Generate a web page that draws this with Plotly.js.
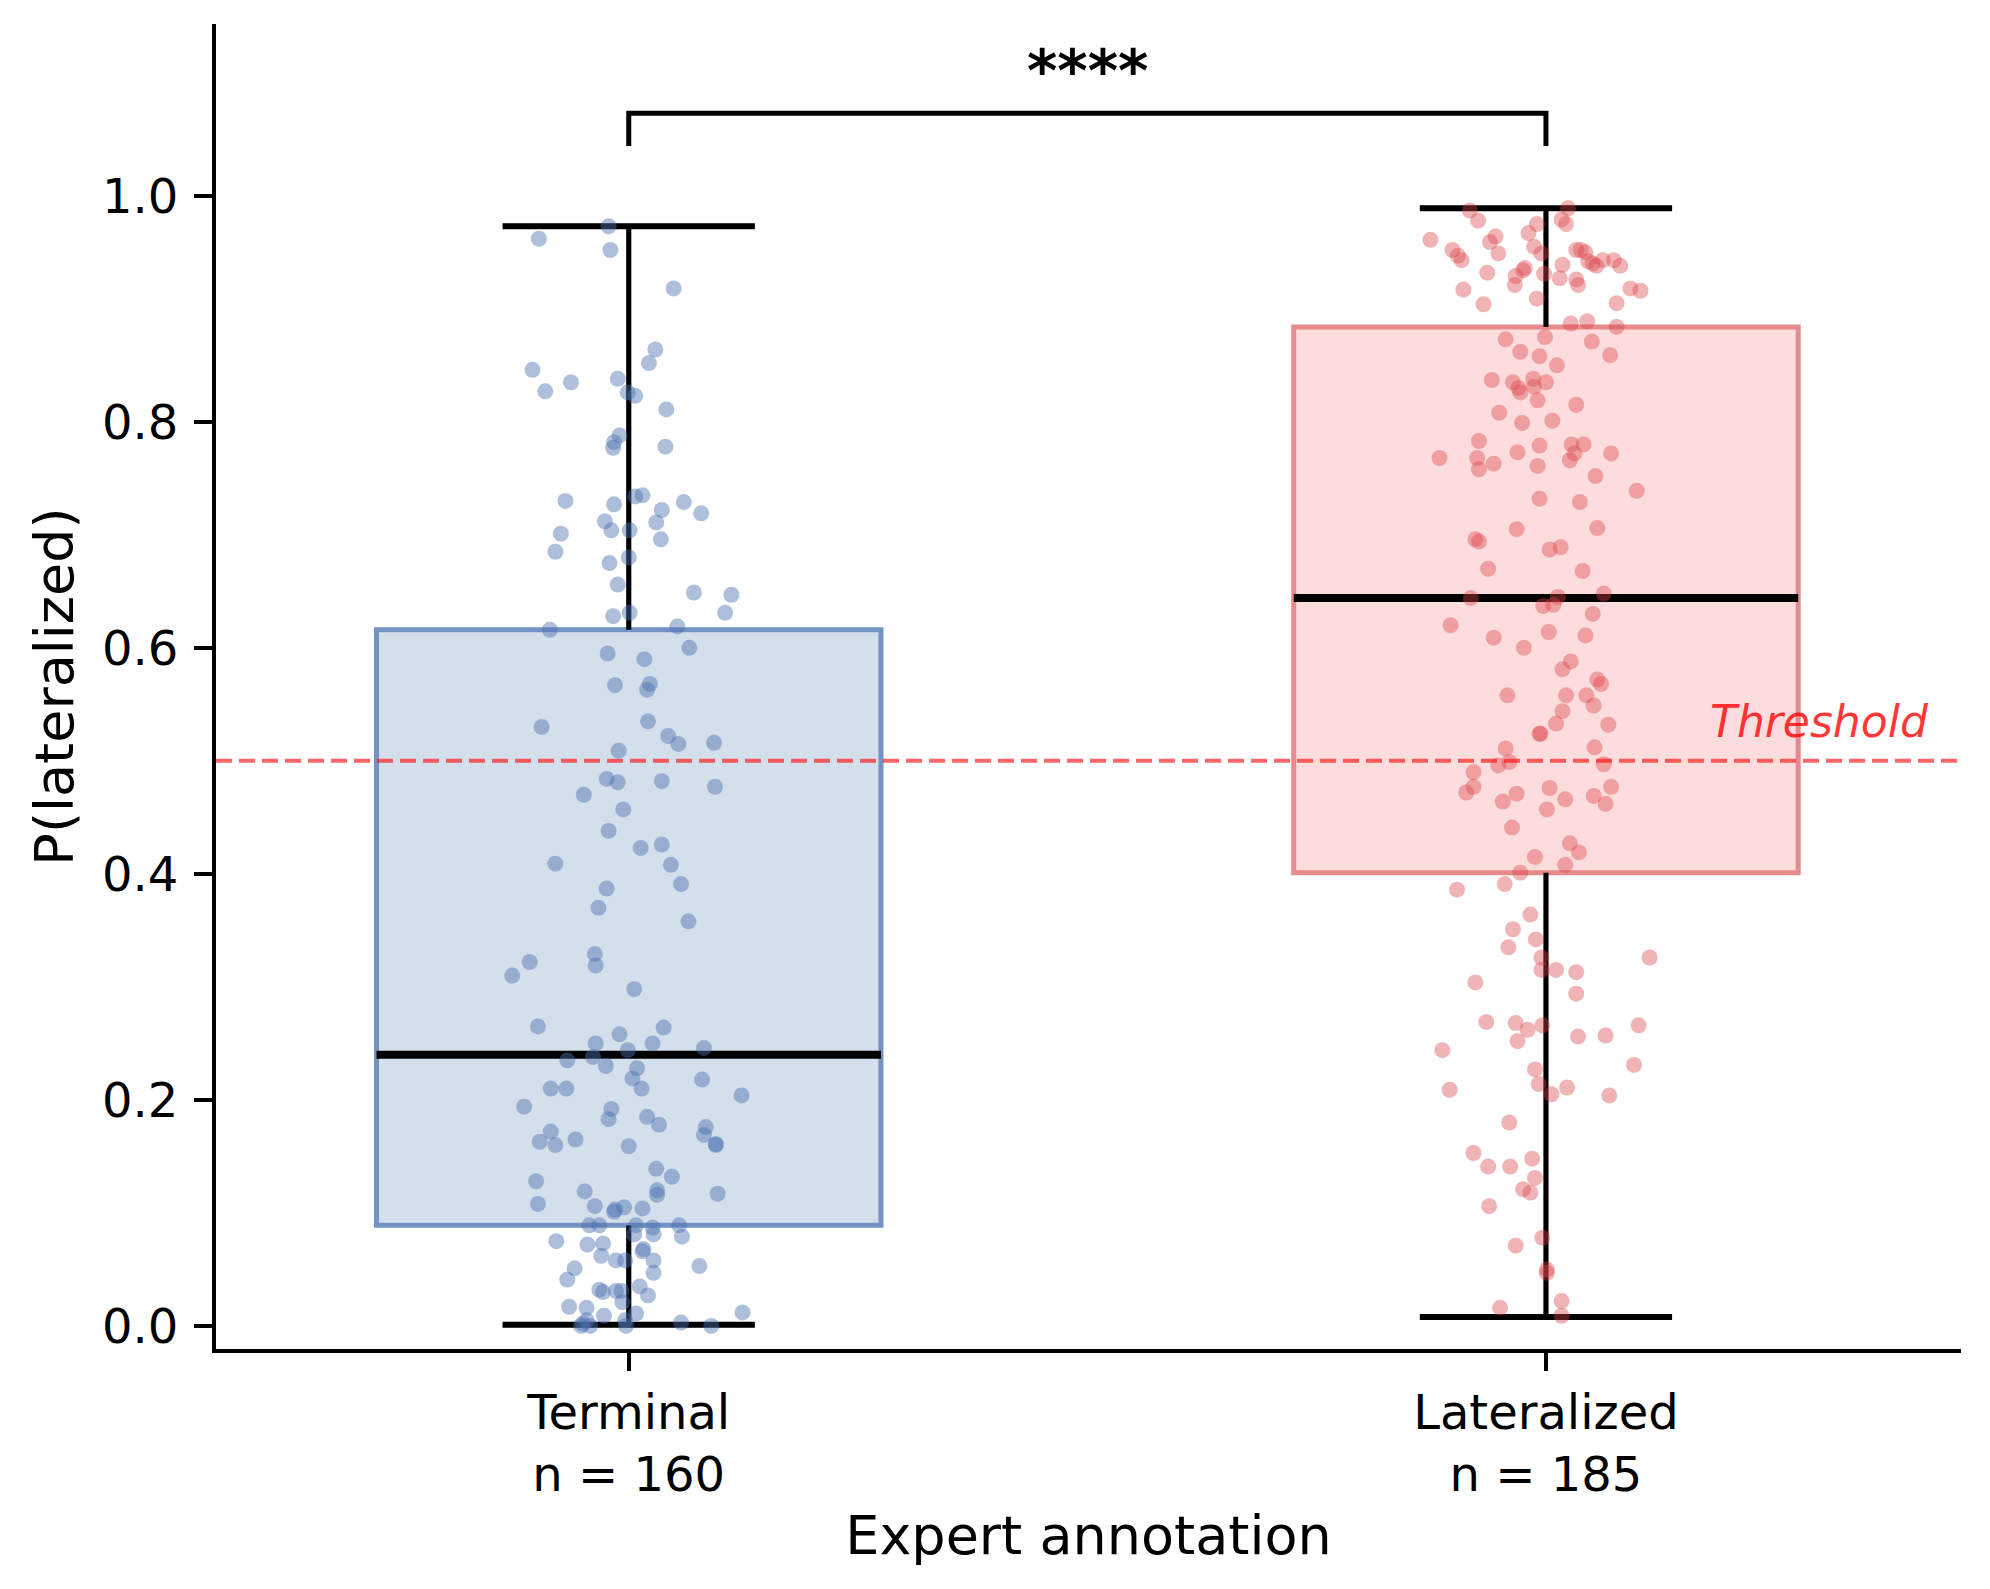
<!DOCTYPE html>
<html><head><meta charset="utf-8">
<script src="https://cdn.plot.ly/plotly-3.0.1.min.js"></script>
<style>html,body{margin:0;padding:0;background:#fff}#chart{width:1990px;height:1589px}</style>
</head><body><div id="chart"></div>
<script>
// ---------- data ----------
const categories = ['Terminal', 'Lateralized'];
const counts = [160, 185];
const q1 = [0.089, 0.401];
const medians = [0.240, 0.644];
const q3 = [0.616, 0.884];
const lowerWhisker = [0.001, 0.008];
const upperWhisker = [0.973, 0.989];
const threshold = 0.5;
const thresholdLabel = 'Threshold';
const significanceText = '****';
const bracketLevel = 1.073;
const bracketEnd = 1.044;

// jitter (category units) and probability of each point, Terminal group
const terminalJitter = [
 -0.022,-0.098,-0.020,0.049,0.029,0.022,-0.105,-0.063,-0.012,-0.091,-0.001,0.007,0.041,-0.010,-0.016,-0.017,0.040,-0.069,0.015,0.007,-0.016,0.060,0.036,0.079,-0.026,0.030,-0.019,0.001,-0.074,0.035,-0.080,0.000,-0.021,
 -0.012,0.071,0.112,-0.017,0.001,0.105,-0.086,0.053,0.066,-0.023,0.017,-0.015,0.023,0.020,-0.095,0.021,0.043,0.054,0.093,-0.011,-0.024,-0.012,0.036,0.094,-0.049,-0.006,-0.022,0.013,0.036,-0.080,0.046,0.057,-0.024,-0.033,0.065,-0.037,
 -0.108,-0.036,-0.127,0.006,-0.099,-0.010,0.038,-0.036,0.026,0.082,
 -0.001,-0.039,-0.067,-0.025,0.009,0.004,0.080,-0.085,-0.068,0.014,
 0.123,-0.114,-0.019,-0.022,0.020,0.033,-0.085,-0.097,-0.080,-0.058,
 0.000,0.084,0.082,0.095,0.095,0.030,0.047,-0.101,-0.048,0.031,
 0.031,0.097,-0.099,-0.037,-0.016,-0.015,-0.005,0.015,-0.043,-0.032,
 0.008,0.026,0.055,-0.079,-0.045,-0.028,0.006,0.027,0.058,-0.030,
 0.016,0.015,-0.014,-0.004,0.027,-0.059,-0.067,0.027,0.077,-0.032,
 -0.028,-0.014,-0.008,0.012,0.021,-0.065,-0.046,-0.027,-0.007,0.008,
 0.124,-0.050,-0.046,-0.052,-0.004,0.057,0.090,-0.042,-0.003
];
const terminalP = [
 0.973,0.962,0.952,0.918,0.864,0.852,0.846,0.835,0.838,0.827,0.826,0.823,0.811,0.788,0.782,0.777,0.778,0.730,0.735,0.734,0.727,0.729,0.722,0.719,0.712,0.711,0.704,0.704,0.701,0.696,0.685,0.680,0.675,
 0.656,0.649,0.647,0.628,0.631,0.631,0.616,0.619,0.600,0.595,0.590,0.567,0.568,0.563,0.530,0.535,0.522,0.515,0.516,0.509,0.484,0.481,0.482,0.477,0.470,0.457,0.438,0.423,0.426,0.409,0.408,0.391,0.387,0.370,0.358,0.329,
 0.322,0.319,0.310,0.298,0.265,0.258,0.264,0.250,0.250,0.246,
 0.244,0.238,0.235,0.230,0.228,0.219,0.218,0.210,0.210,0.210,
 0.204,0.194,0.192,0.183,0.185,0.178,0.172,0.163,0.160,0.165,
 0.159,0.176,0.169,0.161,0.160,0.139,0.132,0.128,0.119,0.120,
 0.116,0.117,0.108,0.106,0.101,0.103,0.105,0.104,0.089,0.089,
 0.089,0.087,0.089,0.075,0.072,0.073,0.081,0.081,0.079,0.062,
 0.068,0.066,0.058,0.058,0.058,0.051,0.041,0.047,0.053,0.032,
 0.030,0.031,0.031,0.035,0.027,0.017,0.016,0.009,0.021,0.011,
 0.012,0.002,0.005,0.000,0.005,0.003,0.000,0.000,0.000
];

// jitter and probability of each point, Lateralized group
const lateralJitter = [
 -0.083,-0.074,0.024,0.017,0.022,-0.010,-0.019,-0.126,-0.055,-0.061,
 -0.102,-0.096,-0.092,-0.052,-0.013,-0.005,0.033,0.038,0.043,0.046,
 0.051,0.055,0.062,0.074,0.081,0.018,-0.023,-0.025,-0.033,-0.064,
 -0.002,0.015,0.033,0.035,-0.034,-0.090,0.092,0.103,-0.010,-0.068,
 0.077,0.027,0.045,0.077,-0.044,-0.001,0.050,-0.028,-0.007,0.070,
 0.012,-0.059,-0.036,-0.030,-0.028,-0.014,-0.013,0.000,-0.009,0.033,
 -0.051,-0.026,0.007,-0.073,-0.031,-0.007,0.028,0.041,0.031,0.026,
 0.071,-0.116,-0.075,-0.073,-0.057,-0.009,0.054,0.099,-0.007,0.037,
 -0.032,0.056,-0.077,-0.073,0.004,0.016,-0.063,0.040,
 -0.082,0.013,0.008,-0.003,0.063,0.051,-0.104,-0.057,0.003,0.043,
 -0.024,0.027,0.018,0.056,0.060,-0.042,0.022,0.044,0.052,0.018,
 0.011,0.068,-0.007,-0.006,-0.044,0.053,-0.052,-0.040,0.063,-0.079,
 -0.079,-0.087,-0.032,-0.047,0.004,0.021,0.052,0.071,0.065,0.001,
 -0.037,0.026,0.036,-0.012,0.021,-0.028,-0.045,-0.097,-0.017,-0.036,
 -0.011,-0.041,0.113,-0.005,
 -0.005,0.011,0.033,-0.077,0.033,-0.065,-0.033,-0.020,-0.004,-0.031,
 0.035,0.065,0.101,-0.113,-0.012,-0.008,0.023,0.006,-0.105,0.069,
 0.096,-0.040,-0.079,-0.063,-0.039,-0.015,-0.012,-0.025,-0.017,-0.062,
 -0.004,-0.033,0.001,0.001,0.017,-0.050,0.017
];
const lateralP = [
 0.987,0.978,0.989,0.979,0.975,0.975,0.967,0.961,0.964,0.959,
 0.952,0.947,0.943,0.949,0.955,0.949,0.952,0.952,0.950,0.942,
 0.940,0.938,0.943,0.943,0.938,0.939,0.936,0.934,0.929,0.932,
 0.931,0.927,0.926,0.921,0.921,0.917,0.918,0.916,0.909,0.904,
 0.905,0.887,0.889,0.884,0.873,0.875,0.871,0.862,0.858,0.859,
 0.850,0.837,0.835,0.830,0.826,0.838,0.831,0.835,0.819,0.815,
 0.808,0.799,0.801,0.783,0.773,0.779,0.780,0.780,0.772,0.766,
 0.772,0.768,0.768,0.758,0.763,0.761,0.752,0.739,0.732,0.729,
 0.705,0.706,0.696,0.694,0.687,0.689,0.670,0.668,
 0.644,0.645,0.638,0.637,0.648,0.630,0.620,0.609,0.614,0.611,
 0.600,0.588,0.581,0.572,0.568,0.558,0.558,0.558,0.549,0.544,
 0.533,0.532,0.524,0.524,0.511,0.512,0.496,0.499,0.497,0.490,
 0.477,0.472,0.471,0.464,0.476,0.466,0.469,0.477,0.462,0.457,
 0.441,0.427,0.419,0.415,0.408,0.401,0.391,0.386,0.364,0.351,
 0.342,0.335,0.326,0.326,
 0.315,0.315,0.313,0.304,0.294,0.269,0.268,0.262,0.266,0.252,
 0.256,0.257,0.266,0.244,0.227,0.214,0.211,0.205,0.209,0.204,
 0.231,0.180,0.153,0.141,0.141,0.148,0.131,0.121,0.118,0.106,
 0.078,0.071,0.050,0.047,0.022,0.016,0.009
];

// ---------- styles ----------
const boxFill = ['#d4dfec', '#fddcdd'];
const boxEdge = ['#7393c4', '#e68a8c'];
const pointColor = ['rgba(76,114,176,0.45)', 'rgba(221,68,72,0.4)'];
const BOX_W = 0.55, CAP_W = 0.275;
const FONT = 'DejaVu Sans, Verdana, sans-serif';

const traces = [];
// boxes
categories.forEach((c, i) => {
  traces.push({
    type: 'box', x: [i], q1: [q1[i]], median: [medians[i]], q3: [q3[i]],
    lowerfence: [lowerWhisker[i]], upperfence: [upperWhisker[i]],
    width: BOX_W, whiskerwidth: 0.5, boxpoints: false,
    fillcolor: boxFill[i], line: {color: boxEdge[i], width: 5},
    hoverinfo: 'skip', showlegend: false
  });
});
// black whiskers, caps and medians
const wx = [], wy = [], cx = [], cy = [], mx = [], my = [];
categories.forEach((c, i) => {
  wx.push(i, i, null, i, i, null);
  wy.push(q3[i], upperWhisker[i], null, q1[i], lowerWhisker[i], null);
  cx.push(i - CAP_W / 2, i + CAP_W / 2, null, i - CAP_W / 2, i + CAP_W / 2, null);
  cy.push(upperWhisker[i], upperWhisker[i], null, lowerWhisker[i], lowerWhisker[i], null);
  mx.push(i - BOX_W / 2, i + BOX_W / 2, null);
  my.push(medians[i], medians[i], null);
});
traces.push({type: 'scatter', mode: 'lines', x: wx, y: wy, line: {color: '#000', width: 5}, hoverinfo: 'skip', showlegend: false});
traces.push({type: 'scatter', mode: 'lines', x: cx, y: cy, line: {color: '#000', width: 6}, hoverinfo: 'skip', showlegend: false});
traces.push({type: 'scatter', mode: 'lines', x: mx, y: my, line: {color: '#000', width: 8}, hoverinfo: 'skip', showlegend: false});
// significance bracket
traces.push({type: 'scatter', mode: 'lines', x: [0, 0, 1, 1], y: [bracketEnd, bracketLevel, bracketLevel, bracketEnd],
  line: {color: '#000', width: 5}, hoverinfo: 'skip', showlegend: false});
// points
const jit = [terminalJitter, lateralJitter];
const vals = [terminalP, lateralP];
categories.forEach((c, i) => {
  traces.push({
    type: 'scatter', mode: 'markers', name: c,
    x: jit[i].map(d => i + d), y: vals[i],
    marker: {size: 16, color: pointColor[i], line: {width: 0}},
    showlegend: false
  });
});

const layout = {
  width: 1990, height: 1589,
  margin: {l: 216, r: 29, t: 24, b: 240},
  paper_bgcolor: '#ffffff', plot_bgcolor: '#ffffff',
  font: {family: FONT, color: '#000', size: 48},
  showlegend: false,
  xaxis: {
    range: [-0.450, 1.4525], tickvals: [0, 1],
    ticktext: categories.map((c, i) => c + '<br>n = ' + counts[i]),
    showline: true, linewidth: 4, linecolor: '#000',
    ticks: 'outside', ticklen: 18, tickwidth: 4, tickcolor: '#000',
    showgrid: false, zeroline: false, tickfont: {size: 48},
    title: {text: 'Expert annotation', font: {size: 54}, standoff: 16}
  },
  yaxis: {
    range: [-0.0204, 1.152], tick0: 0, dtick: 0.2, tickformat: '.1f',
    showline: true, linewidth: 4, linecolor: '#000',
    ticks: 'outside', ticklen: 18, tickwidth: 4, tickcolor: '#000',
    showgrid: false, zeroline: false, tickfont: {size: 48}, ticklabelstandoff: 6,
    title: {text: 'P(lateralized)', font: {size: 54}, standoff: 12}
  },
  shapes: [{
    type: 'line', xref: 'paper', x0: 0, x1: 1, yref: 'y', y0: threshold, y1: threshold,
    line: {color: 'rgba(255,0,0,0.6)', width: 4, dash: '16px,7px'}, layer: 'above'
  }],
  annotations: [
    {xref: 'x', yref: 'y', x: 0.5, y: 1.11, text: '<b>' + significanceText + '</b>', showarrow: false,
     font: {size: 58, color: '#000'}, xanchor: 'center', yanchor: 'middle'},
    {xref: 'x', yref: 'y', x: 1.42, y: 0.535, text: '<i>' + thresholdLabel + '</i>', showarrow: false,
     font: {size: 44, color: 'rgba(255,0,0,0.8)'}, xanchor: 'right', yanchor: 'middle'}
  ]
};

Plotly.newPlot('chart', traces, layout, {displayModeBar: false, staticPlot: true});
</script>
</body></html>
